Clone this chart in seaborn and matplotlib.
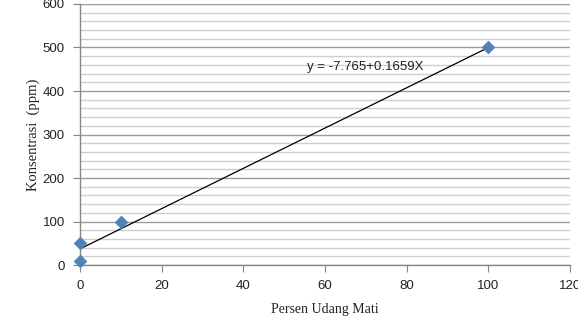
import matplotlib
matplotlib.use("Agg")
import matplotlib.pyplot as plt
import seaborn as sns
import pandas as pd
from matplotlib.ticker import MultipleLocator

# Data
persen = [0, 0, 10, 100]
konsentrasi = [10, 50, 100, 500]
line_x = [0, 100]
line_y = [37, 500]
equation = "y = -7.765+0.1659X"
x_ticks = [0, 20, 40, 60, 80, 100, 120]
y_ticks = [0, 100, 200, 300, 400, 500, 600]

sns.set_theme(style="white")
plt.rcParams['font.family'] = ['Liberation Sans', 'DejaVu Sans']

fig = plt.figure(figsize=(5.78, 3.25), dpi=100)
ax = fig.add_axes([0.1384, 0.1846, 0.8478, 0.8031])

df = pd.DataFrame({"x": persen, "y": konsentrasi})
ldf = pd.DataFrame({"x": line_x, "y": line_y})

sns.lineplot(data=ldf, x="x", y="y", ax=ax, color="black", linewidth=0.9, zorder=3)
sns.scatterplot(data=df, x="x", y="y", ax=ax, marker="D", s=42, color="#4F81BD",
                edgecolor="#4F81BD", linewidth=0.5, zorder=4, clip_on=False)

ax.set_xlim(0, 120)
ax.set_ylim(0, 600)
ax.set_xticks(x_ticks)
ax.set_yticks(y_ticks)
ax.yaxis.set_minor_locator(MultipleLocator(20))
ax.grid(axis="y", which="major", color="#9C9C9C", linewidth=1.0)
ax.grid(axis="y", which="minor", color="#CFCFCF", linewidth=1.0)
ax.grid(axis="x", which="both", visible=False)
ax.set_axisbelow(True)

for s in ["top", "right"]:
    ax.spines[s].set_visible(False)
for s in ["left", "bottom"]:
    ax.spines[s].set_color("#868686")
    ax.spines[s].set_linewidth(1.0)

ax.tick_params(axis="both", which="major", direction="out", length=5, width=0.8,
               color="#868686", labelsize=9.5, labelcolor="#222222", pad=6)
ax.tick_params(axis="y", which="minor", length=0)
ax.tick_params(axis="x", bottom=True)
ax.tick_params(axis="y", left=True)

ax.set_xlabel("Persen Udang Mati", fontfamily="Liberation Serif", fontsize=10,
              color="#222222", labelpad=8)
ax.set_ylabel("Konsentrasi  (ppm)", fontfamily="Liberation Serif", fontsize=10.5,
              color="#222222", labelpad=2)

ax.text(55.5, 455, equation, fontsize=9.5, color="#222222", va="center", ha="left")

fig.savefig("out.png", dpi=100)
